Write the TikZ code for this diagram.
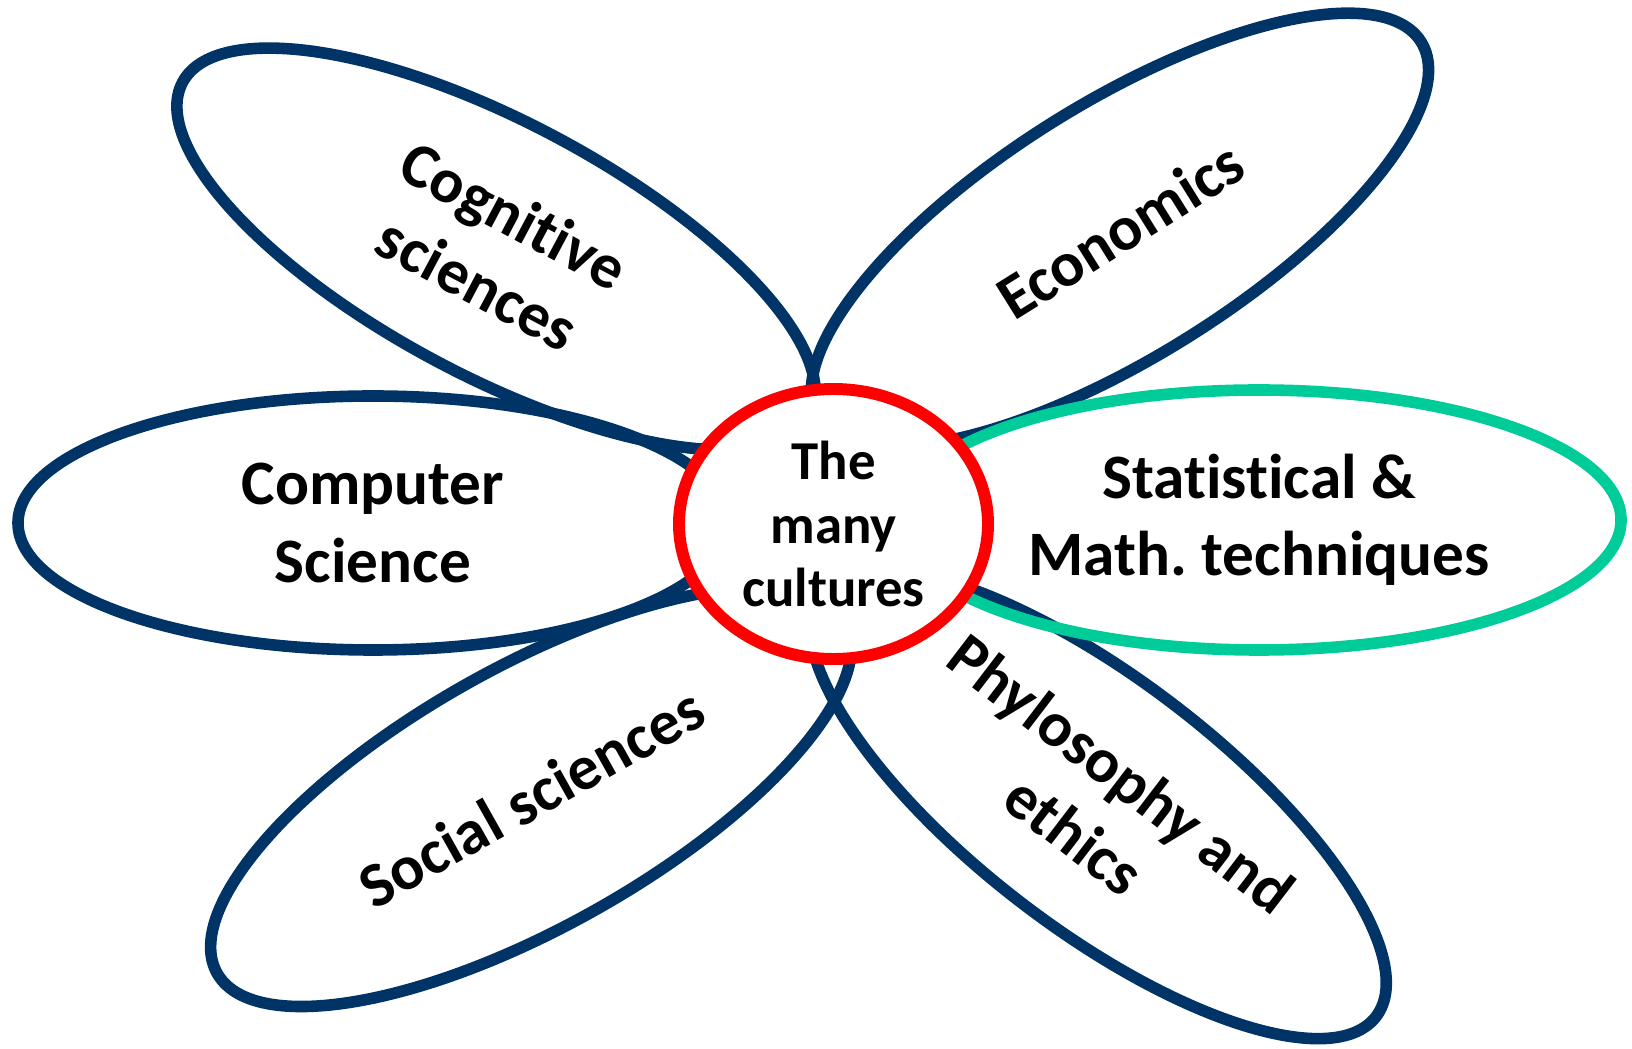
\documentclass[tikz,border=0pt]{standalone}
\usepackage{fontspec}
\setmainfont[Ligatures=NoCommon]{Carlito}
\usetikzlibrary{shapes.geometric}

\definecolor{petalblue}{RGB}{0,51,102}
\definecolor{petalteal}{RGB}{0,204,153}

\tikzset{
  petal/.style={ellipse, draw=petalblue, line width=3.3pt, inner sep=0pt,
    minimum width=7.1cm, minimum height=2.54cm, align=center,
    font=\fontsize{18}{22}\selectfont\bfseries},
  core/.style={ellipse, draw=red, fill=white, line width=3.4pt, inner sep=0pt,
    minimum width=3.09cm, minimum height=2.7cm, align=center,
    font=\fontsize{15.6}{18}\selectfont\bfseries},
}

\begin{document}
\begin{tikzpicture}
    \useasboundingbox (0,0) rectangle (16.32,10.48);

    % Petales
    \node[petal, rotate=-28] (cog) at (4.96,7.99) {Cognitive\\sciences};
    \node[petal, rotate=32] (econ) at (11.20,8.18) {Economics};
    \node[petal] (cs) at (3.73,5.25) {Computer\\Science};
    \node[petal, rotate=29.3, minimum width=7.2cm, minimum height=2.6cm] (social) at (5.31,2.51) {Social sciences};
    \node[petal, rotate=-37.4, minimum width=7.0cm, minimum height=2.5cm] (philo) at (10.98,2.44) {Phylosophy and\\ethics};
    \node[petal, draw=petalteal, minimum width=7.24cm, minimum height=2.6cm] (stats) at (12.59,5.28) {Statistical \&\\Math.\ techniques};

    % Coeur
    \node[core] (heart) at (8.335,5.24) {The\\many\\cultures};

\end{tikzpicture}
\end{document}
